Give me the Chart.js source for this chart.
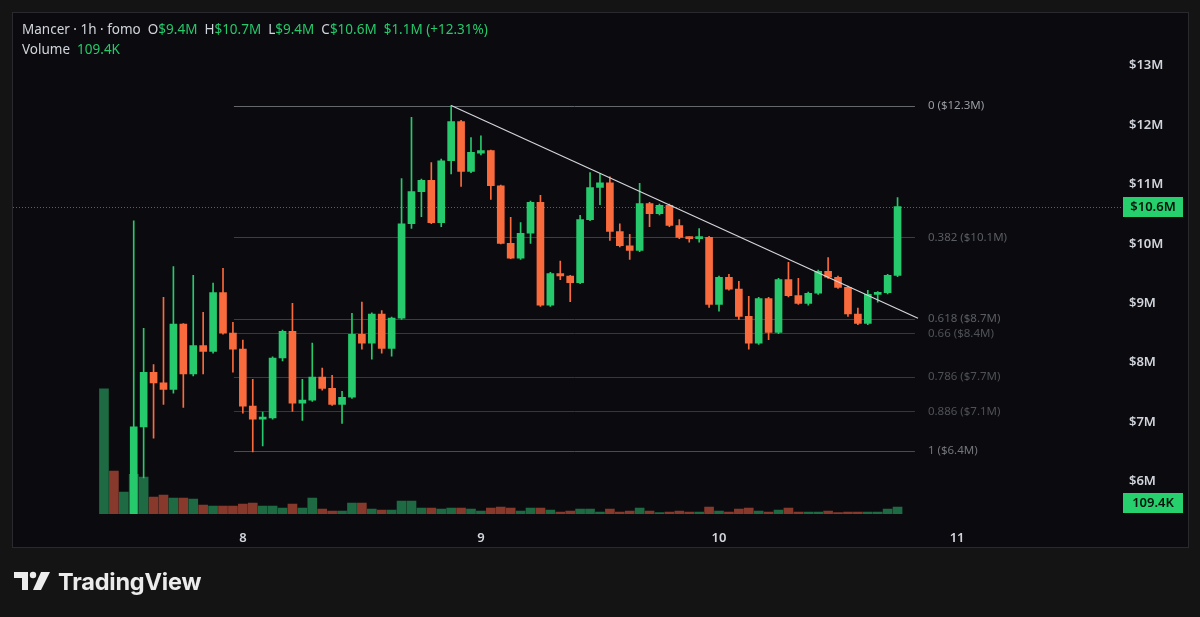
<!DOCTYPE html>
<html>
<head>
<meta charset="utf-8">
<script src="https://cdn.jsdelivr.net/npm/chart.js@4.4.1/dist/chart.umd.min.js"></script>
<style>
  html, body { margin: 0; padding: 0; background: #141414; width: 1200px; height: 617px; overflow: hidden; }
  #panel { position: absolute; left: 12px; top: 12px; width: 1175px; height: 534px; background: #0b0b0f; border: 1px solid #2a2a2e; }
  #chart { position: absolute; left: 0; top: 0; }
  #legend { position: absolute; left: 22px; top: 19px; font: 13.5px "Noto Sans", sans-serif; color: #d1d4dc; line-height: 20px; white-space: pre; }
  #legend .g { color: #26c96b; }
  #brand { position: absolute; left: 12px; top: 565px; height: 32px; display: flex; align-items: center; }
  #brand span { font: 700 23.5px "Inter", "Noto Sans", sans-serif; color: #ececec; margin-left: 6px; letter-spacing: -0.2px; }
</style>
</head>
<body>
<div id="panel"></div>
<canvas id="chart" width="1200" height="617"></canvas>
<div id="legend"></div>
<div id="brand">
  <svg width="40" height="24" viewBox="0 0 40 24">
    <path d="M2 3 H16 V21 H10 V9 H2 Z" fill="#ececec"/>
    <circle cx="21" cy="6" r="3.2" fill="#ececec"/>
    <path d="M29 3 H38 L29 21 H21 Z" fill="#ececec"/>
  </svg>
  <span>TradingView</span>
</div>
<script>
// hourly candles, $M
const candleOpen = [4.6, 4.9, 4.7, 5.0, 6.92, 7.84, 7.66, 7.55, 8.65, 7.81,
  8.29, 8.19, 9.18, 8.50, 8.23, 7.27, 7.05, 7.07, 8.08, 8.53,
  7.32, 7.37, 7.76, 7.57, 7.30, 7.42, 8.48, 8.33, 8.82, 8.24,
  8.75, 10.34, 10.88, 11.07, 10.36, 11.40, 12.06, 11.22, 11.53, 11.57,
  10.98, 10.01, 9.76, 10.18, 10.70, 8.97, 9.50, 9.46, 9.35, 10.41,
  10.95, 11.03, 10.21, 9.97, 9.89, 10.68, 10.51, 10.65, 10.31, 10.11,
  10.09, 10.11, 8.98, 9.44, 9.24, 8.78, 8.33, 9.08, 8.51, 9.40,
  9.13, 9.00, 9.17, 9.54, 9.44, 9.27, 8.82, 8.66, 9.15, 9.18, 9.47];
const candleHigh = [5.0, 5.1, 5.1, 10.39, 8.58, 7.97, 9.10, 9.62, 8.66, 9.47,
  8.85, 9.34, 9.59, 8.68, 8.38, 7.72, 7.17, 8.10, 8.55, 9.00,
  7.72, 8.33, 7.91, 7.79, 7.52, 8.83, 9.02, 8.84, 8.88, 8.77,
  11.10, 12.13, 11.09, 11.37, 11.43, 12.33, 12.08, 11.79, 11.82, 11.58,
  10.99, 10.45, 10.36, 10.72, 10.82, 9.52, 9.71, 9.47, 10.48, 11.20,
  11.18, 11.13, 10.34, 10.16, 11.02, 10.70, 10.67, 10.67, 10.41, 10.12,
  10.26, 10.13, 9.46, 9.49, 9.37, 9.12, 9.10, 9.10, 9.42, 9.69,
  9.42, 9.19, 9.56, 9.77, 9.46, 9.29, 8.92, 9.22, 9.20, 9.49, 10.78];
const candleLow = [4.5, 4.6, 4.6, 4.9, 6.06, 6.73, 7.30, 7.49, 7.25, 7.78,
  7.81, 8.16, 8.48, 7.84, 7.15, 6.50, 6.60, 7.05, 8.03, 7.18,
  7.03, 7.35, 7.54, 7.28, 6.98, 7.40, 8.23, 8.06, 8.16, 8.11,
  8.73, 10.26, 10.46, 10.34, 10.29, 11.18, 10.97, 11.20, 11.50, 10.75,
  10.00, 9.75, 9.74, 10.01, 8.95, 8.95, 9.40, 9.03, 9.33, 10.39,
  10.66, 10.06, 9.95, 9.74, 9.87, 10.29, 10.49, 10.29, 10.09, 10.03,
  10.03, 8.93, 8.87, 9.22, 8.73, 8.23, 8.31, 8.39, 8.49, 9.11,
  8.98, 8.97, 9.15, 9.42, 9.25, 8.78, 8.64, 8.64, 9.02, 9.16, 9.45];
const candleClose = [4.9, 4.7, 5.0, 6.92, 7.84, 7.66, 7.55, 8.65, 7.81, 8.29,
  8.19, 9.18, 8.50, 8.23, 7.27, 7.05, 7.07, 8.08, 8.53, 7.32,
  7.37, 7.76, 7.57, 7.30, 7.42, 8.48, 8.33, 8.82, 8.24, 8.75,
  10.34, 10.88, 11.07, 10.36, 11.40, 12.06, 11.22, 11.54, 11.57, 10.98,
  10.01, 9.76, 10.18, 10.70, 8.97, 9.50, 9.46, 9.35, 10.41, 10.95,
  11.03, 10.21, 9.97, 9.89, 10.68, 10.51, 10.65, 10.31, 10.11, 10.09,
  10.11, 8.98, 9.44, 9.24, 8.78, 8.33, 9.08, 8.51, 9.40, 9.13,
  9.00, 9.17, 9.54, 9.44, 9.27, 8.82, 8.66, 9.15, 9.18, 9.47, 10.63];
// volume, thousands
const volumeK = [1950, 670, 343, 620, 577, 265, 296, 250, 250, 234,
  140, 125, 125, 125, 156, 172, 125, 125, 94, 156,
  94, 250, 78, 47, 47, 172, 172, 78, 62, 62,
  203, 203, 94, 94, 78, 94, 94, 78, 47, 94,
  109, 94, 47, 94, 94, 62, 31, 47, 78, 78,
  31, 78, 31, 47, 94, 47, 23, 31, 47, 31,
  31, 109, 47, 31, 78, 94, 47, 31, 62, 94,
  31, 31, 31, 47, 23, 31, 31, 31, 31, 78, 109.4];

const dayTickIndex = [14, 38, 62, 86];
const dayTickLabels = ['8', '9', '10', '11'];
const priceTicks = [6, 7, 8, 9, 10, 11, 12, 13];

const fibHigh = 12.33, fibLow = 6.52;
const fibLevels = [0, 0.382, 0.618, 0.66, 0.786, 0.886, 1];
const fibPriceLabels = ['$12.3M', '$10.1M', '$8.7M', '$8.4M', '$7.7M', '$7.1M', '$6.4M'];
const trendPoints = [{ x: 35, y: 12.33 }, { x: 82.06, y: 8.75 }];

const lastPriceLabel = '$10.6M';
const lastVolumeLabel = '109.4K';
const legendParts = [
  ['Mancer · 1h · fomo  O', ''], ['$9.4M', 'g'], ['  H', ''], ['$10.7M', 'g'], ['  L', ''], ['$9.4M', 'g'],
  ['  C', ''], ['$10.6M', 'g'], ['  $1.1M (+12.31%)', 'g'], ['\nVolume  ', ''], ['109.4K', 'g']
];

const UP = '#26c96b', DOWN = '#f96a3c', VOL_UP = '#1d6a43', VOL_DOWN = '#87392b';
const FONT = '"Noto Sans", sans-serif';
const fibLineColors = ['#65676e', '#3c3e44', '#3c3e44', '#36383d', '#36383d', '#36383d', '#4a4c52'];
const fibTextColors = ['#9a9ca4', '#5a5d64', '#5a5d64', '#4e5157', '#4e5157', '#4e5157', '#74767d'];
const FIB_X0 = 13.1, FIB_X1 = 81.75;

document.getElementById('legend').innerHTML = legendParts
  .map(p => p[1] ? '<span class="' + p[1] + '">' + p[0] + '</span>' : p[0]).join('');

const isUp = candleClose.map((c, i) => c >= candleOpen[i]);
const idx = candleClose.map((_, i) => i);

const overlay = {
  id: 'overlay',
  beforeDatasetsDraw(chart) {
    const { ctx, chartArea, scales } = chart;
    const x = scales.x, y = scales.y;
    ctx.save();
    fibLevels.forEach((lv, k) => {
      const py = Math.round(y.getPixelForValue(fibHigh - lv * (fibHigh - fibLow))) + 0.5;
      ctx.strokeStyle = fibLineColors[k];
      ctx.lineWidth = 1;
      ctx.beginPath();
      ctx.moveTo(x.getPixelForValue(FIB_X0), py);
      ctx.lineTo(x.getPixelForValue(FIB_X1), py);
      ctx.stroke();
    });
    // last price dotted line
    const lp = Math.round(y.getPixelForValue(candleClose[candleClose.length - 1])) + 0.5;
    ctx.strokeStyle = '#4f6a5c';
    ctx.setLineDash([1, 2]);
    ctx.beginPath();
    ctx.moveTo(chartArea.left, lp);
    ctx.lineTo(chartArea.right + 8, lp);
    ctx.stroke();
    ctx.restore();
  },
  afterDraw(chart) {
    const { ctx, chartArea, scales } = chart;
    const x = scales.x, y = scales.y;
    ctx.save();
    ctx.font = '11.5px ' + FONT;
    ctx.textBaseline = 'middle';
    ctx.textAlign = 'left';
    fibLevels.forEach((lv, k) => {
      const py = y.getPixelForValue(fibHigh - lv * (fibHigh - fibLow));
      ctx.fillStyle = fibTextColors[k];
      ctx.fillText(lv + ' (' + fibPriceLabels[k] + ')', x.getPixelForValue(FIB_X1) + 13, py);
    });
    const box = (cy, text) => {
      ctx.fillStyle = '#26d06d';
      ctx.fillRect(chartArea.right + 8, Math.round(cy - 10), 60, 20);
      ctx.fillStyle = '#07140c';
      ctx.font = '600 13px ' + FONT;
      ctx.textAlign = 'center';
      ctx.fillText(text, chartArea.right + 38, cy + 0.5);
    };
    box(y.getPixelForValue(candleClose[candleClose.length - 1]), lastPriceLabel);
    const vy = Math.min(scales.yVol.getPixelForValue(volumeK[volumeK.length - 1]), chartArea.bottom - 11);
    box(vy, lastVolumeLabel);
    ctx.restore();
  }
};

const tickFont = { family: FONT, size: 13, weight: '600' };

new Chart(document.getElementById('chart'), {
  type: 'bar',
  data: {
    datasets: [
      {
        label: 'Volume', yAxisID: 'yVol', order: 4, grouped: false,
        data: idx.map(i => ({ x: i, y: volumeK[i] })),
        backgroundColor: isUp.map(u => u ? VOL_UP : VOL_DOWN),
        barThickness: 9
      },
      {
        label: 'Wick', yAxisID: 'y', order: 3, grouped: false,
        data: idx.map(i => ({ x: i, y: [candleLow[i], candleHigh[i]] })),
        backgroundColor: isUp.map(u => u ? UP : DOWN),
        barThickness: 1
      },
      {
        label: 'Body', yAxisID: 'y', order: 2, grouped: false,
        data: idx.map(i => ({ x: i, y: [candleOpen[i], candleClose[i]] })),
        backgroundColor: isUp.map(u => u ? UP : DOWN),
        barThickness: 7, minBarLength: 2
      },
      {
        type: 'line', label: 'Trend', yAxisID: 'y', order: 1,
        data: trendPoints,
        borderColor: '#d4d6dc', borderWidth: 1.2, pointRadius: 0
      }
    ]
  },
  options: {
    responsive: false,
    animation: false,
    devicePixelRatio: 1,
    layout: { padding: { left: 13, top: 13, right: 12, bottom: 70 } },
    plugins: { legend: { display: false }, tooltip: { enabled: false } },
    datasets: { bar: { borderWidth: 0, borderSkipped: false } },
    scales: {
      x: {
        type: 'linear', min: -9.17, max: 101.92, offset: false,
        grid: { display: false }, border: { display: false },
        afterBuildTicks: s => { s.ticks = dayTickIndex.map(v => ({ value: v })); },
        afterFit: s => { s.height = 33; },
        ticks: {
          color: '#d1d4dc', font: tickFont, padding: 8, maxRotation: 0, autoSkip: false,
          callback: (v, i) => dayTickLabels[i]
        }
      },
      y: {
        position: 'right', min: 5.454, max: 13.874,
        grid: { display: false }, border: { display: false },
        afterBuildTicks: s => { s.ticks = priceTicks.map(v => ({ value: v })); },
        afterFit: s => { s.width = 73; },
        ticks: { color: '#d1d4dc', font: tickFont, padding: 6, callback: v => '$' + v + 'M' }
      },
      yVol: { display: false, min: 0, max: 7800 }
    }
  },
  plugins: [overlay]
});
</script>
</body>
</html>
